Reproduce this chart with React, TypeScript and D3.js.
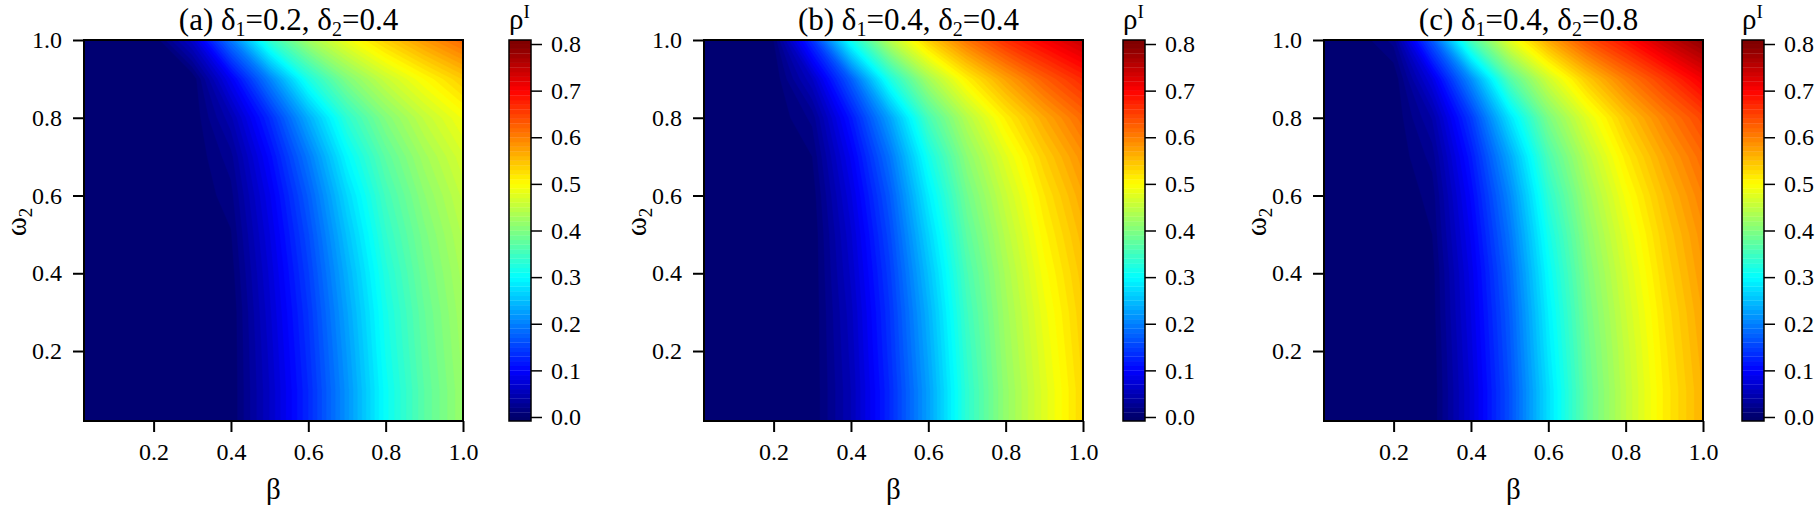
import * as d3 from "d3";
import { useEffect, useRef } from "react";

const BETA_GRID = [0, 0.1, 0.2, 0.3, 0.4, 0.5, 0.6, 0.7, 0.8, 0.9, 1.0];
const OMEGA_GRID = [0, 0.1, 0.2, 0.3, 0.4, 0.5, 0.6, 0.7, 0.8, 0.9, 1.0];

// rows = omega_2 from 0 to 1, columns = beta from 0 to 1
const RHO_A = [
  [0, 0, 0, 0, 0, 0.06, 0.13, 0.215, 0.305, 0.37, 0.42],
  [0, 0, 0, 0, 0, 0.06, 0.13, 0.215, 0.305, 0.37, 0.42],
  [0, 0, 0, 0, 0, 0.063, 0.135, 0.221, 0.311, 0.375, 0.424],
  [0, 0, 0, 0, 0, 0.067, 0.14, 0.228, 0.316, 0.379, 0.428],
  [0, 0, 0, 0, 0.004, 0.072, 0.148, 0.238, 0.325, 0.387, 0.434],
  [0, 0, 0, 0, 0.009, 0.079, 0.158, 0.252, 0.338, 0.396, 0.442],
  [0, 0, 0, 0, 0.016, 0.088, 0.172, 0.27, 0.352, 0.409, 0.453],
  [0, 0, 0, 0, 0.026, 0.104, 0.195, 0.297, 0.372, 0.426, 0.468],
  [0, 0, 0, 0, 0.047, 0.132, 0.236, 0.335, 0.402, 0.452, 0.492],
  [0, 0, 0, 0, 0.092, 0.202, 0.32, 0.4, 0.456, 0.5, 0.541],
  [0, 0, 0, 0.065, 0.195, 0.338, 0.426, 0.486, 0.537, 0.581, 0.619],
];

const RHO_B = [
  [0, 0, 0, 0, 0.05, 0.13, 0.225, 0.335, 0.415, 0.475, 0.53],
  [0, 0, 0, 0, 0.05, 0.13, 0.225, 0.335, 0.415, 0.475, 0.53],
  [0, 0, 0, 0, 0.053, 0.135, 0.232, 0.341, 0.42, 0.48, 0.535],
  [0, 0, 0, 0, 0.056, 0.139, 0.239, 0.348, 0.425, 0.486, 0.539],
  [0, 0, 0, 0, 0.062, 0.146, 0.251, 0.358, 0.432, 0.495, 0.546],
  [0, 0, 0, 0, 0.068, 0.156, 0.267, 0.372, 0.443, 0.506, 0.556],
  [0, 0, 0, 0.003, 0.078, 0.169, 0.287, 0.388, 0.457, 0.519, 0.569],
  [0, 0, 0, 0.01, 0.092, 0.19, 0.313, 0.409, 0.477, 0.538, 0.587],
  [0, 0, 0, 0.023, 0.116, 0.227, 0.355, 0.441, 0.512, 0.568, 0.617],
  [0, 0, 0, 0.059, 0.173, 0.32, 0.428, 0.51, 0.573, 0.627, 0.67],
  [0, 0, 0.01, 0.137, 0.313, 0.443, 0.538, 0.61, 0.666, 0.706, 0.744],
];

const RHO_C = [
  [0, 0, 0, 0.001, 0.072, 0.161, 0.275, 0.379, 0.449, 0.512, 0.561],
  [0, 0, 0, 0.001, 0.072, 0.161, 0.275, 0.379, 0.449, 0.512, 0.561],
  [0, 0, 0, 0.002, 0.076, 0.166, 0.283, 0.384, 0.453, 0.516, 0.566],
  [0, 0, 0, 0.004, 0.08, 0.171, 0.29, 0.39, 0.459, 0.521, 0.571],
  [0, 0, 0, 0.005, 0.084, 0.179, 0.3, 0.398, 0.467, 0.529, 0.579],
  [0, 0, 0, 0.01, 0.092, 0.191, 0.314, 0.409, 0.478, 0.538, 0.587],
  [0, 0, 0, 0.014, 0.102, 0.206, 0.333, 0.423, 0.493, 0.551, 0.6],
  [0, 0, 0, 0.024, 0.117, 0.231, 0.358, 0.443, 0.514, 0.57, 0.618],
  [0, 0, 0, 0.041, 0.144, 0.278, 0.396, 0.476, 0.544, 0.599, 0.646],
  [0, 0, 0, 0.081, 0.211, 0.364, 0.462, 0.541, 0.603, 0.655, 0.71],
  [0, 0, 0.024, 0.169, 0.357, 0.479, 0.569, 0.639, 0.689, 0.745, 0.79],
];

const PANEL_DATA = [RHO_A, RHO_B, RHO_C];
const PANEL_TAGS = ["(a)", "(b)", "(c)"];
const DELTA1 = ["0.2", "0.4", "0.4"];
const DELTA2 = ["0.4", "0.4", "0.8"];

const AXIS_TICKS = [0.2, 0.4, 0.6, 0.8, 1.0];
const CBAR_TICKS = [0, 0.1, 0.2, 0.3, 0.4, 0.5, 0.6, 0.7, 0.8];

const FONT = "'Liberation Serif', 'Times New Roman', Times, serif";
const W = 1816;
const H = 508;

const panel = { left: 84, step: 620, top: 40, width: 379, height: 381 };
const cbarDx = [425, 419, 418];
const cbarWidth = 22;
const LEVELS = d3.range(0, 0.8, 0.01);
const LEVEL_STEP = 0.01;

// jet colormap on 0..0.8
const jet = (v: number) => {
  const t = Math.max(0, Math.min(1, v / 0.8));
  const c = (x: number) => Math.max(0, Math.min(1, x));
  const r = c(1.5 - Math.abs(4 * t - 3));
  const g = c(1.5 - Math.abs(4 * t - 2));
  let b = c(1.5 - Math.abs(4 * t - 1));
  if (t < 0.125) b = 0.42 + 0.58 * (t / 0.125);
  return d3.rgb(r * 255, g * 255, b * 255).formatHex();
};

const App = () => {
  const svgRef = useRef(null);

  useEffect(() => {
    document.body.style.margin = "0";
    const svg = d3.select(svgRef.current);
    svg.selectAll("*").remove();
    const defs = svg.append("defs");

    PANEL_DATA.forEach((rows, i) => {
      const left = panel.left + i * panel.step;
      const top = panel.top;
      const pw = panel.width;
      const ph = panel.height;

      const x = d3.scaleLinear().domain([0.02, 1]).range([left, left + pw]);
      const y = d3.scaleLinear().domain([0.02, 1]).range([top + ph, top]);

      // contour grid coords -> data -> pixels (grid value k sits at k + 0.5)
      const nx = BETA_GRID.length;
      const ny = OMEGA_GRID.length;
      const xc = d3.scaleLinear().domain([0.5, nx - 0.5])
        .range([x(BETA_GRID[0]), x(BETA_GRID[nx - 1])]);
      const yc = d3.scaleLinear().domain([0.5, ny - 0.5])
        .range([y(OMEGA_GRID[0]), y(OMEGA_GRID[ny - 1])]);
      const proj = d3.geoTransform({
        point(px: number, py: number) {
          this.stream.point(xc(px), yc(py));
        },
      });
      const path = d3.geoPath(proj);

      const values = rows.flat();
      const bands = d3.contours().size([nx, ny]).thresholds(LEVELS)(values);

      defs.append("clipPath").attr("id", `clip-${i}`)
        .append("rect")
        .attr("x", left).attr("y", top)
        .attr("width", pw).attr("height", ph);

      const g = svg.append("g").attr("font-family", FONT);
      g.append("g")
        .attr("clip-path", `url(#clip-${i})`)
        .selectAll("path")
        .data(bands)
        .enter()
        .append("path")
        .attr("d", (d: any) => path(d))
        .attr("fill", (d: any) => jet(d.value + LEVEL_STEP / 2))
        .attr("stroke", (d: any) => jet(d.value + LEVEL_STEP / 2))
        .attr("stroke-width", 0.4);

      g.append("rect")
        .attr("x", left).attr("y", top)
        .attr("width", pw).attr("height", ph)
        .attr("fill", "none")
        .attr("stroke", "#000")
        .attr("stroke-width", 2);

      const styleAxis = (sel: any) => {
        sel.attr("font-family", FONT).attr("font-size", 24);
        sel.select(".domain").remove();
        sel.selectAll("line").attr("stroke", "#000").attr("stroke-width", 2);
        sel.selectAll("text")
          .attr("fill", "#000")
          .attr("font-family", FONT)
          .style("font-family", FONT)
          .style("font-size", "24px");
      };

      g.append("g")
        .attr("transform", `translate(0, ${top + ph})`)
        .call(d3.axisBottom(x).tickValues(AXIS_TICKS).tickFormat(d3.format(".1f"))
          .tickSize(11).tickPadding(11))
        .call(styleAxis);

      g.append("g")
        .attr("transform", `translate(${left}, 0)`)
        .call(d3.axisLeft(y).tickValues(AXIS_TICKS).tickFormat(d3.format(".1f"))
          .tickSize(11).tickPadding(11))
        .call(styleAxis);

      // title
      const title = g.append("text")
        .attr("x", left + pw / 2 + 15)
        .attr("y", 30)
        .attr("text-anchor", "middle")
        .style("font-family", FONT)
        .style("font-size", "31px");
      title.append("tspan").text(`${PANEL_TAGS[i]} δ`);
      title.append("tspan").attr("dy", 6).style("font-size", "20px").text("1");
      title.append("tspan").attr("dy", -6).text(`=${DELTA1[i]}, δ`);
      title.append("tspan").attr("dy", 6).style("font-size", "20px").text("2");
      title.append("tspan").attr("dy", -6).text(`=${DELTA2[i]}`);

      // axis labels
      g.append("text")
        .attr("x", left + pw / 2)
        .attr("y", 499)
        .attr("text-anchor", "middle")
        .style("font-family", FONT)
        .style("font-size", "29px")
        .text("β");

      const yl = g.append("text")
        .attr("transform", `translate(${left - 58}, ${top + 182}) rotate(-90)`)
        .attr("text-anchor", "middle")
        .style("font-family", FONT)
        .style("font-size", "29px");
      yl.append("tspan").text("ω");
      yl.append("tspan").attr("dy", 6).style("font-size", "19px").text("2");

      // colour bar
      const cx = left + cbarDx[i];
      const cb = d3.scaleLinear().domain([-0.0086, 0.8086]).range([top + ph, top]);
      const cg = g.append("g");
      cg.append("rect")
        .attr("x", cx).attr("y", cb(0))
        .attr("width", cbarWidth).attr("height", cb(-0.0086) - cb(0))
        .attr("fill", jet(0));
      cg.append("rect")
        .attr("x", cx).attr("y", cb(0.8086))
        .attr("width", cbarWidth).attr("height", cb(0.8) - cb(0.8086))
        .attr("fill", jet(0.8));
      cg.selectAll(".lvl")
        .data(LEVELS)
        .enter()
        .append("rect")
        .attr("x", cx)
        .attr("y", (d: number) => cb(d + LEVEL_STEP))
        .attr("width", cbarWidth)
        .attr("height", (d: number) => cb(d) - cb(d + LEVEL_STEP) + 0.3)
        .attr("fill", (d: number) => jet(d + LEVEL_STEP / 2));
      cg.append("rect")
        .attr("x", cx).attr("y", top)
        .attr("width", cbarWidth).attr("height", ph)
        .attr("fill", "none")
        .attr("stroke", "#000")
        .attr("stroke-width", 1.5);

      g.append("g")
        .attr("transform", `translate(${cx + cbarWidth}, 0)`)
        .call(d3.axisRight(cb).tickValues(CBAR_TICKS).tickFormat(d3.format(".1f"))
          .tickSize(11).tickPadding(9))
        .call(styleAxis)
        .call((s: any) => s.selectAll("line").attr("stroke-width", 1.5));

      const rl = g.append("text")
        .attr("x", cx)
        .attr("y", 29)
        .style("font-family", FONT)
        .style("font-size", "29px");
      rl.append("tspan").text("ρ");
      rl.append("tspan").attr("dy", -11).style("font-size", "19px").text("I");
    });
  }, []);

  return (
    <svg
      ref={svgRef}
      width={W}
      height={H}
      style={{ display: "block", background: "#fff" }}
    />
  );
};

export default App;
